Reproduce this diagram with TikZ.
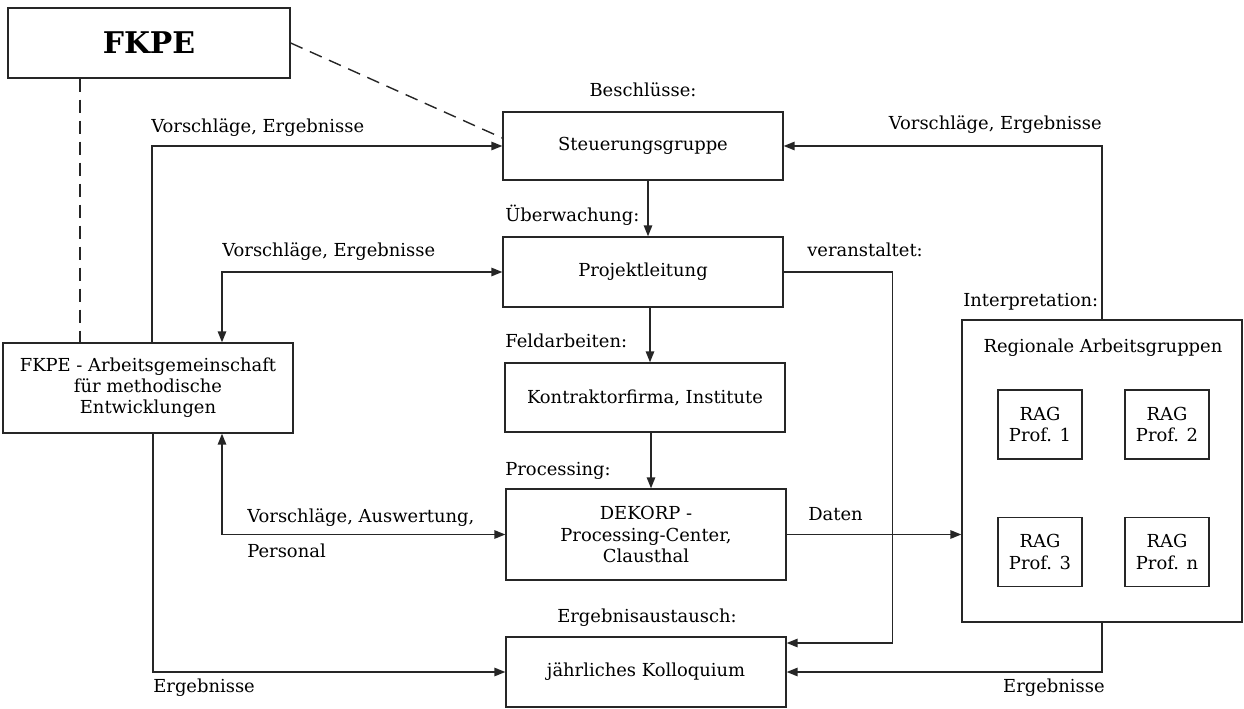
\documentclass[tikz,border=0pt]{standalone}
\usepackage{fontspec}
\setmainfont{DejaVu Serif}
\usetikzlibrary{arrows.meta, positioning, calc}

\begin{document}
\begin{tikzpicture}[
    x=0.02cm, y=-0.02cm,
    box/.style={rectangle, draw=black!85, line width=0.8pt, minimum width=5.6cm, minimum height=1.4cm, align=center, inner sep=0pt, font=\fontsize{10.2}{12}\selectfont},
    ragbox/.style={box, minimum width=1.68cm, minimum height=1.38cm},
    arrow/.style={-{Triangle[length=2.2mm, width=1.7mm]}, line width=0.8pt, draw=black!85},
    biarrow/.style={arrow, {Triangle[length=2.2mm, width=1.7mm]}-{Triangle[length=2.2mm, width=1.7mm]}},
    link/.style={line width=0.8pt, draw=black!85, dash pattern=on 0.26cm off 0.16cm},
    lbl/.style={font=\fontsize{10.2}{12}\selectfont, inner sep=0pt}
]
\useasboundingbox (0,0) rectangle (1244,709);

% Boxes
\node[box, minimum width=5.64cm, font=\bfseries\fontsize{17}{20}\selectfont] (fkpe) at (149,43) {FKPE};
\node[box, minimum height=1.36cm] (steuer) at (643,146) {Steuerungsgruppe};
\node[box] (leitung) at (643,272) {Projektleitung};
\node[box, minimum height=1.38cm] (kontraktor) at (645,397.5) {Kontraktorfirma, Institute};
\node[box, minimum height=1.82cm] (dekorp) at (646,534.5) {DEKORP -\\Processing-Center,\\Clausthal};
\node[box] (kolloq) at (646,672) {jährliches Kolloquium};
\node[box, minimum width=5.8cm, minimum height=1.8cm] (ag) at (148,388) {FKPE - Arbeitsgemeinschaft\\für methodische\\Entwicklungen};

% Regional groups
\node[box, minimum height=6.04cm] (regional) at (1102,471) {};
\node[lbl, anchor=base] (regtitle) at (1103,353) {Regionale Arbeitsgruppen};
\node[ragbox] (rag1) at (1040,424.5) {RAG\\Prof. 1};
\node[ragbox] (rag2) at (1167,424.5) {RAG\\Prof. 2};
\node[ragbox] (rag3) at (1040,552) {RAG\\Prof. 3};
\node[ragbox] (ragn) at (1167,552) {RAG\\Prof. n};

% Dashed links from FKPE
\draw[link] (fkpe.south -| 80,0) -- (ag.north -| 80,0);
\draw[link] (fkpe.east) -- ([yshift=0.16cm]steuer.west);

% Main chain
\draw[arrow] (steuer.south -| 648,0) -- (leitung.north -| 648,0);
\draw[arrow] (leitung.south -| 650,0) -- (kontraktor.north -| 650,0);
\draw[arrow] (kontraktor.south -| 651,0) -- (dekorp.north -| 651,0);
\draw[arrow] (dekorp.east) -- (dekorp.east -| regional.west);

% Feedback lines
\draw[arrow] (ag.north -| 152,0) |- (steuer.west);
\draw[arrow] (regional.north) |- (steuer.east);
\draw[biarrow] (ag.north -| 222,0) |- (leitung.west);
\draw[biarrow] (ag.south -| 222,0) |- (dekorp.west);
\draw[arrow] (leitung.east) -| ([xshift=2.12cm, yshift=0.58cm]kolloq.east) -- ([yshift=0.58cm]kolloq.east);
\draw[arrow] (ag.south -| 153,0) |- (kolloq.west);
\draw[arrow] (regional.south) |- (kolloq.east);

% Labels
\node[lbl, anchor=base] (beschl) at (643,97) {Beschlüsse:};
\node[lbl, anchor=base west] (ueberw) at (505,222) {Überwachung:};
\node[lbl, anchor=base west] (feld) at (505,348) {Feldarbeiten:};
\node[lbl, anchor=base west] (proc) at (505,475) {Processing:};
\node[lbl, anchor=base] (austausch) at (647,622) {Ergebnisaustausch:};
\node[lbl, anchor=base west] (vorschl1) at (151,133) {Vorschläge, Ergebnisse};
\node[lbl, anchor=base east] (vorschl2) at (1102,130) {Vorschläge, Ergebnisse};
\node[lbl, anchor=base west] (vorschl3) at (222,257) {Vorschläge, Ergebnisse};
\node[lbl, anchor=base west] (veranst) at (807,257) {veranstaltet:};
\node[lbl, anchor=base west] (interp) at (963,307) {Interpretation:};
\node[lbl, anchor=base west] (auswert) at (247,522) {Vorschläge, Auswertung,};
\node[lbl, anchor=base west] (personal) at (247,557) {Personal};
\node[lbl, anchor=base west] (daten) at (808,520) {Daten};
\node[lbl, anchor=base west] (erg1) at (153,692) {Ergebnisse};
\node[lbl, anchor=base east] (erg2) at (1105,692) {Ergebnisse};

\end{tikzpicture}
\end{document}
